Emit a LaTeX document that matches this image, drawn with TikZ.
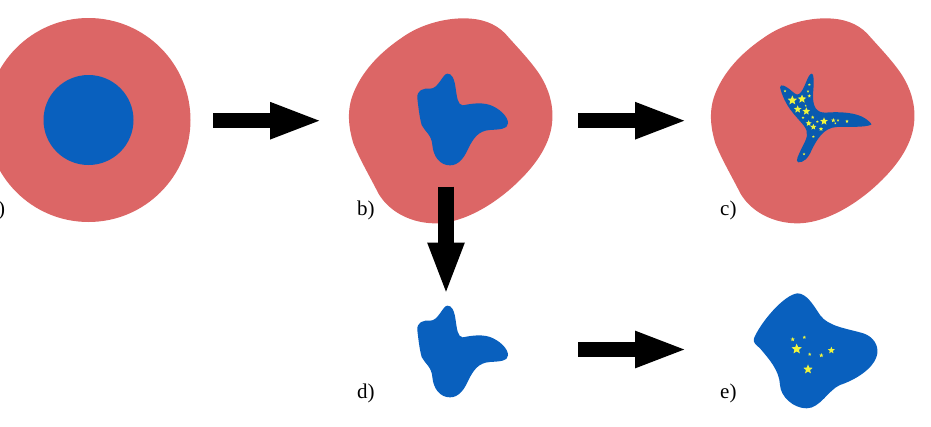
\documentclass[tikz,border=0pt]{standalone}
\usepackage{fontspec}
\setmainfont{Liberation Serif}
\usetikzlibrary{arrows.meta}
\definecolor{cellred}{RGB}{220,102,102}
\definecolor{coreblue}{RGB}{9,96,190}
\definecolor{armblue}{RGB}{10,90,175}
\definecolor{starfill}{RGB}{240,245,60}
% Freeform outlines, in local units of a third of a point
\newcommand\cellshape{(370,25)
 .. controls (425,25) and (465,40) .. (495,70)
 .. controls (530,110) and (570,150) .. (600,195)
 .. controls (625,235) and (640,280) .. (637,330)
 .. controls (633,400) and (590,460) .. (540,510)
 .. controls (480,570) and (380,640) .. (285,640)
 .. controls (220,640) and (150,610) .. (115,550)
 .. controls (90,500) and (60,450) .. (40,400)
 .. controls (25,350) and (20,300) .. (40,250)
 .. controls (70,175) and (130,120) .. (190,80)
 .. controls (240,45) and (310,25) .. (370,25) -- cycle}
\newcommand\coreshape{(322,191)
 .. controls (335,190) and (343,205) .. (347,235)
 .. controls (351,262) and (353,285) .. (368,286)
 .. controls (385,283) and (420,275) .. (450,285)
 .. controls (478,295) and (505,320) .. (504,340)
 .. controls (503,358) and (480,358) .. (450,360)
 .. controls (415,362) and (400,385) .. (385,415)
 .. controls (372,445) and (355,466) .. (330,466)
 .. controls (300,466) and (280,440) .. (277,405)
 .. controls (275,375) and (255,365) .. (245,345)
 .. controls (238,320) and (235,290) .. (232,265)
 .. controls (230,240) and (250,234) .. (270,236)
 .. controls (295,237) and (308,191) .. (322,191) -- cycle}
\newcommand\armshape{(335,191)
 .. controls (342,190) and (342,215) .. (340,240)
 .. controls (337,270) and (338,308) .. (375,308)
 .. controls (420,304) and (470,308) .. (495,325)
 .. controls (505,332) and (515,340) .. (514,344)
 .. controls (495,353) and (440,350) .. (410,351)
 .. controls (370,353) and (350,390) .. (335,420)
 .. controls (325,445) and (310,458) .. (295,457)
 .. controls (285,455) and (295,435) .. (305,415)
 .. controls (320,385) and (330,370) .. (310,345)
 .. controls (285,315) and (255,290) .. (240,232)
 .. controls (243,220) and (255,228) .. (268,237)
 .. controls (280,247) and (290,258) .. (297,252)
 .. controls (315,240) and (322,192) .. (335,191) -- cycle}
\newcommand\lobeshape{(172,40)
 .. controls (200,40) and (220,75) .. (240,105)
 .. controls (265,140) and (320,145) .. (370,160)
 .. controls (400,170) and (415,195) .. (412,220)
 .. controls (405,265) and (345,300) .. (300,315)
 .. controls (265,330) and (240,385) .. (200,385)
 .. controls (160,385) and (122,350) .. (120,315)
 .. controls (118,270) and (85,235) .. (60,205)
 .. controls (50,195) and (38,190) .. (42,175)
 .. controls (60,130) and (130,45) .. (172,40) -- cycle}
\newcommand\fivestar[3]{\fill[starfill,shift={(#1,#2)}] (-90:#3*1.35) -- (-54:#3*0.6) -- (-18:#3*1.35) -- (18:#3*0.6) -- (54:#3*1.35) -- (90:#3*0.6) -- (126:#3*1.35) -- (162:#3*0.6) -- (198:#3*1.35) -- (234:#3*0.6) -- cycle;}
\tikzset{
  fine/.style={x=0.33333pt,y=-0.33333pt},
  blockarrow/.style={line width=15.5pt,-{Triangle[length=53pt,width=33pt]}},
  caption/.style={anchor=base west,inner sep=0pt,font=\fontsize{21pt}{21pt}\selectfont}
}
\begin{document}
\begin{tikzpicture}[x=1pt,y=-1pt]
\useasboundingbox (0,0) rectangle (931,426);
\clip (0,0) rectangle (931,426);
% Round cell
\fill[cellred] (88.5,120) circle[radius=102pt];
\fill[coreblue] (88.5,120) circle[radius=45pt];
% Deformed cell with lobed core
\begin{scope}[shift={(340pt,-10pt)},fine]
\fill[cellred] \cellshape;
\fill[coreblue] \coreshape;
\end{scope}
% Deformed cell with branched, star-filled core
\begin{scope}[shift={(702pt,-10pt)},fine]
\fill[cellred] \cellshape;
\end{scope}
\begin{scope}[shift={(700pt,-10pt)},fine]
\fill[armblue] \armshape;
\fivestar{277}{271}{11}\fivestar{306}{267}{10}\fivestar{293}{298}{9}\fivestar{319}{304}{9}
\fivestar{372}{334}{9}\fivestar{340}{351}{7}\fivestar{326}{340}{7}\fivestar{363}{357}{5}
\fivestar{400}{331}{5}\fivestar{414}{331}{3}\fivestar{406}{340}{2.5}\fivestar{441}{334}{4}
\fivestar{338}{322}{4}\fivestar{352}{335}{3}\fivestar{309}{323}{3}\fivestar{317}{287}{2.5}
\fivestar{328}{258}{4}\fivestar{324}{244}{3}\fivestar{328}{224}{3}\fivestar{255}{243}{3}
\fivestar{340}{380}{3}\fivestar{312}{432}{3}
\end{scope}
% Isolated core
\begin{scope}[shift={(340pt,-242pt)},fine]
\fill[coreblue] \coreshape;
\end{scope}
% Isolated core after growth, with stars
\begin{scope}[shift={(740pt,-280pt)},fine]
\fill[coreblue] \lobeshape;
\fivestar{170}{207}{12}\fivestar{204}{268}{11}\fivestar{274}{211}{8}\fivestar{244}{226}{5}
\fivestar{209}{223}{4}\fivestar{158}{178}{5}\fivestar{193}{172}{4}
\end{scope}
% Arrow end points
\coordinate (ab1) at (213,120.7);
\coordinate (ab2) at (323,120.7);
\coordinate (bc1) at (578,120.7);
\coordinate (bc2) at (688,120.7);
\coordinate (bd1) at (446,186.5);
\coordinate (bd2) at (446,295.5);
\coordinate (de1) at (578,349.5);
\coordinate (de2) at (688,349.5);
\draw[blockarrow] (ab1) -- (ab2);
\draw[blockarrow] (bc1) -- (bc2);
\draw[blockarrow] (bd1) -- (bd2);
\draw[blockarrow] (de1) -- (de2);
% Panel captions
\node[caption] (capa) at (-2,215) {)};
\node[caption] (capb) at (357,215) {b)};
\node[caption] (capc) at (720,215) {c)};
\node[caption] (capd) at (357,398) {d)};
\node[caption] (cape) at (720,398) {e)};
\end{tikzpicture}
\end{document}
